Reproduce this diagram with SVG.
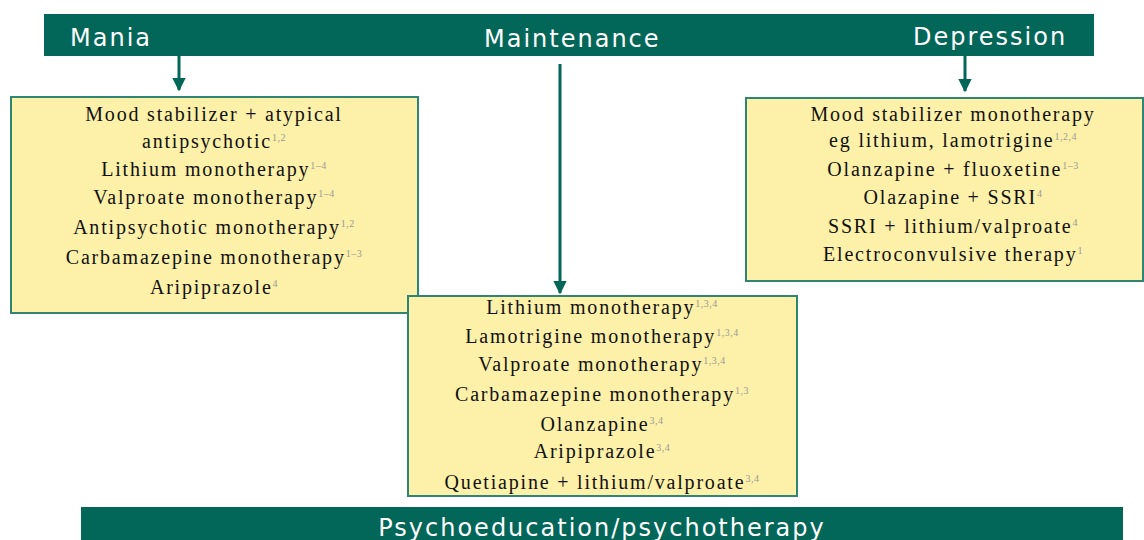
<svg xmlns="http://www.w3.org/2000/svg" width="1144" height="540" viewBox="0 0 1144 540">
  <defs>
    <style>
      .bar { fill: #026659; }
      .bartxt { fill: #ffffff; font-family: "DejaVu Sans", Verdana, sans-serif; font-size: 24px; letter-spacing: 2px; }
      .box { fill: #fdf0a8; stroke: #2e8574; stroke-width: 2; }
      .t { fill: #111111; font-family: "Liberation Serif", "Times New Roman", serif; font-size: 20px; letter-spacing: 1.8px; text-anchor: middle; }
      .sup { fill: #9a9a9a; font-size: 10px; letter-spacing: 0.5px; }
      .conn { stroke: #026659; stroke-width: 3; fill: none; }
    </style>
    <marker id="ah" viewBox="0 0 10 10" refX="9" refY="5" markerWidth="4.5" markerHeight="5" orient="auto" markerUnits="strokeWidth">
      <path d="M0,0 L10,5 L0,10 Z" fill="#026659"/>
    </marker>
  </defs>
  <rect width="1144" height="540" fill="#ffffff"/>

  <g id="top-bar">
    <rect class="bar" x="44" y="14" width="1050" height="42"/>
    <text class="bartxt" x="70" y="46">Mania</text>
    <text class="bartxt" x="484" y="47">Maintenance</text>
    <text class="bartxt" x="913" y="45">Depression</text>
  </g>

  <g id="connectors">
    <line class="conn" x1="179" y1="56" x2="179" y2="90" marker-end="url(#ah)"/>
    <line class="conn" x1="560" y1="64" x2="560" y2="293" marker-end="url(#ah)"/>
    <line class="conn" x1="965" y1="56" x2="965" y2="91" marker-end="url(#ah)"/>
  </g>

  <g id="mania-box">
    <rect class="box" x="11" y="97" width="407" height="216"/>
    <text class="t" x="214" y="121">Mood stabilizer + atypical</text>
    <text class="t" x="214" y="148">antipsychotic<tspan class="sup" dy="-7">1,2</tspan></text>
    <text class="t" x="214" y="176">Lithium monotherapy<tspan class="sup" dy="-7">1–4</tspan></text>
    <text class="t" x="214" y="204">Valproate monotherapy<tspan class="sup" dy="-7">1–4</tspan></text>
    <text class="t" x="214" y="234">Antipsychotic monotherapy<tspan class="sup" dy="-7">1,2</tspan></text>
    <text class="t" x="214" y="264">Carbamazepine monotherapy<tspan class="sup" dy="-7">1–3</tspan></text>
    <text class="t" x="214" y="294">Aripiprazole<tspan class="sup" dy="-7">4</tspan></text>
  </g>

  <g id="depression-box">
    <rect class="box" x="746" y="98" width="397" height="183"/>
    <text class="t" x="953" y="121">Mood stabilizer monotherapy</text>
    <text class="t" x="953" y="147">eg lithium, lamotrigine<tspan class="sup" dy="-7">1,2,4</tspan></text>
    <text class="t" x="953" y="176">Olanzapine + fluoxetine<tspan class="sup" dy="-7">1–3</tspan></text>
    <text class="t" x="953" y="204">Olazapine + SSRI<tspan class="sup" dy="-7">4</tspan></text>
    <text class="t" x="953" y="233">SSRI + lithium/valproate<tspan class="sup" dy="-7">4</tspan></text>
    <text class="t" x="953" y="261">Electroconvulsive therapy<tspan class="sup" dy="-7">1</tspan></text>
  </g>

  <g id="maintenance-box">
    <rect class="box" x="408" y="296" width="389" height="200"/>
    <text class="t" x="602" y="314">Lithium monotherapy<tspan class="sup" dy="-7">1,3,4</tspan></text>
    <text class="t" x="602" y="343">Lamotrigine monotherapy<tspan class="sup" dy="-7">1,3,4</tspan></text>
    <text class="t" x="602" y="371">Valproate monotherapy<tspan class="sup" dy="-7">1,3,4</tspan></text>
    <text class="t" x="602" y="401">Carbamazepine monotherapy<tspan class="sup" dy="-7">1,3</tspan></text>
    <text class="t" x="602" y="431">Olanzapine<tspan class="sup" dy="-7">3,4</tspan></text>
    <text class="t" x="602" y="458">Aripiprazole<tspan class="sup" dy="-7">3,4</tspan></text>
    <text class="t" x="602" y="489">Quetiapine + lithium/valproate<tspan class="sup" dy="-7">3,4</tspan></text>
  </g>

  <g id="bottom-bar">
    <rect class="bar" x="81" y="507" width="1042" height="40"/>
    <text class="bartxt" x="602" y="536" text-anchor="middle">Psychoeducation/psychotherapy</text>
  </g>
</svg>
